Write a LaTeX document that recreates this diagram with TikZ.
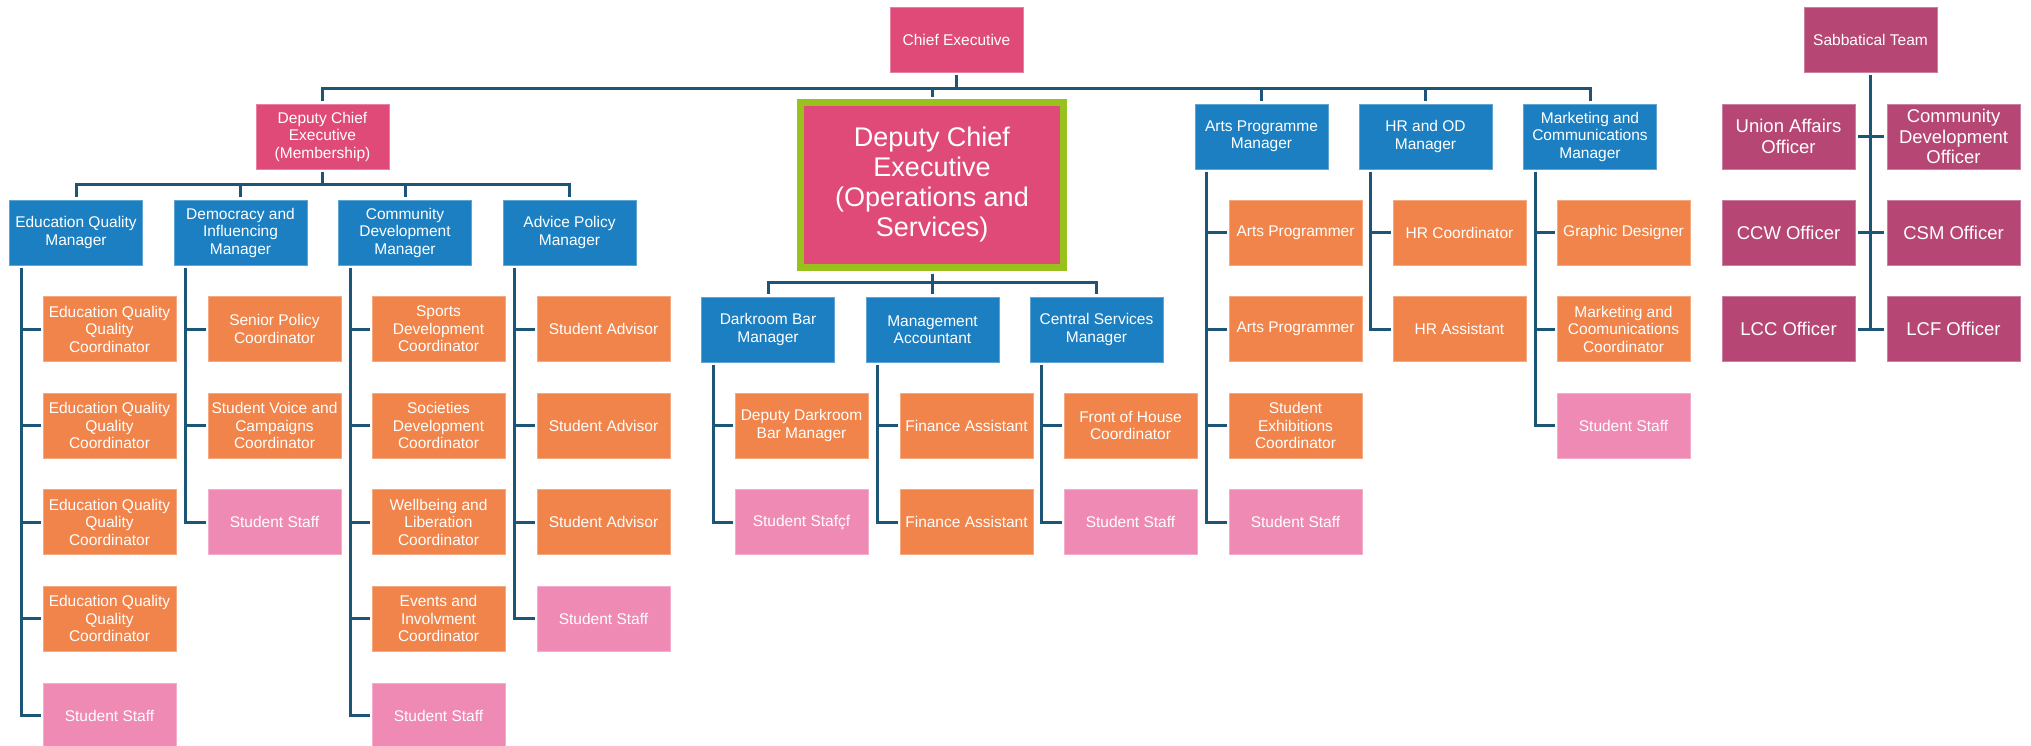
\documentclass[tikz,border=0pt]{standalone}
\usepackage{fontspec}
\setmainfont{Liberation Sans}
\definecolor{execpink}{HTML}{E04A78}
\definecolor{mgrblue}{HTML}{1B7FC1}
\definecolor{staffor}{HTML}{F0844A}
\definecolor{studpink}{HTML}{EF8AB4}
\definecolor{sabbmag}{HTML}{B64775}
\definecolor{linec}{HTML}{1D5577}
\definecolor{opsgreen}{HTML}{98C11E}
\tikzset{
  card/.style={rectangle, minimum width=133pt, minimum height=65pt, inner sep=1pt,
    align=center, text=white, font=\fontsize{15.5}{17.5}\selectfont,
    line width=0.8pt},
  execbox/.style={card, fill=execpink, draw=execpink!70!white},
  mgrbox/.style={card, fill=mgrblue, draw=mgrblue!70!white},
  orbox/.style={card, fill=staffor, draw=staffor!70!white},
  studbox/.style={card, fill=studpink, draw=studpink!70!white},
  sabbox/.style={card, fill=sabbmag, draw=sabbmag!70!white},
  officer/.style={sabbox, font=\fontsize{18.5}{20.5}\selectfont},
  conn/.style={draw=linec, line width=3pt, shorten <=2.5pt, shorten >=2.5pt},
  vline/.style={draw=linec, line width=3pt, shorten <=2.5pt, shorten >=2pt},
}
\begin{document}
\begin{tikzpicture}[x=1pt,y=-1pt]
\fill[white] (0,0) rectangle (2031,745);
\useasboundingbox (0,0) rectangle (2031,745);

% ---- top level ----
\node[execbox] (ce) at (956.5,39.5) {Chief Executive};
\coordinate (bus) at (0,88);

\node[execbox] (dcem) at (322.5,136.5) {Deputy Chief\\Executive\\(Membership)};
\node[rectangle, minimum width=263pt, minimum height=165pt, inner sep=0pt,
      fill=execpink, draw=opsgreen, line width=7pt, align=center, text=white,
      font=\fontsize{27}{30}\selectfont] (dceo) at (932,185)
      {Deputy Chief\\Executive\\(Operations and\\Services)};
\node[mgrbox] (artm) at (1261.5,136.5) {Arts Programme\\Manager};
\node[mgrbox] (hrm) at (1425.5,136.5) {HR and OD\\Manager};
\node[mgrbox] (mktm) at (1590,136.5) {Marketing and\\Communications\\Manager};

\foreach \n in {dcem,dceo,artm,hrm,mktm}
  \draw[conn] (ce.south) -- (ce.south |- bus) -| (\n.north);

% ---- membership branch ----
\coordinate (busm) at (0,184);
\node[mgrbox] (em) at (76,232.5) {Education Quality\\Manager};
\node[mgrbox] (dm) at (240.5,232.5) {Democracy and\\Influencing\\Manager};
\node[mgrbox] (cm) at (405,232.5) {Community\\Development\\Manager};
\node[mgrbox] (am) at (569.5,232.5) {Advice Policy\\Manager};
\foreach \n in {em,dm,cm,am}
  \draw[conn] (dcem.south) -- (dcem.south |- busm) -| (\n.north);

\node[orbox] (e1) at (109.5,329.1) {Education Quality\\Quality\\Coordinator};
\node[orbox] (e2) at (109.5,425.7) {Education Quality\\Quality\\Coordinator};
\node[orbox] (e3) at (109.5,522.3) {Education Quality\\Quality\\Coordinator};
\node[orbox] (e4) at (109.5,618.9) {Education Quality\\Quality\\Coordinator};
\node[studbox] (e5) at (109.5,715.5) {Student Staff};
\foreach \c in {e1,e2,e3,e4,e5}
  \draw[vline] ([xshift=12pt]em.south west) |- (\c.west);

\node[orbox] (d1) at (274.5,329.1) {Senior Policy\\Coordinator};
\node[orbox] (d2) at (274.5,425.7) {Student Voice and\\Campaigns\\Coordinator};
\node[studbox] (d3) at (274.5,522.3) {Student Staff};
\foreach \c in {d1,d2,d3}
  \draw[vline] ([xshift=12pt]dm.south west) |- (\c.west);

\node[orbox] (c1) at (438.5,329.1) {Sports\\Development\\Coordinator};
\node[orbox] (c2) at (438.5,425.7) {Societies\\Development\\Coordinator};
\node[orbox] (c3) at (438.5,522.3) {Wellbeing and\\Liberation\\Coordinator};
\node[orbox] (c4) at (438.5,618.9) {Events and\\Involvment\\Coordinator};
\node[studbox] (c5) at (438.5,715.5) {Student Staff};
\foreach \c in {c1,c2,c3,c4,c5}
  \draw[vline] ([xshift=12pt]cm.south west) |- (\c.west);

\node[orbox] (a1) at (603.5,329.1) {Student Advisor};
\node[orbox] (a2) at (603.5,425.7) {Student Advisor};
\node[orbox] (a3) at (603.5,522.3) {Student Advisor};
\node[studbox] (a4) at (603.5,618.9) {Student Staff};
\foreach \c in {a1,a2,a3,a4}
  \draw[vline] ([xshift=12pt]am.south west) |- (\c.west);

% ---- operations and services branch ----
\coordinate (buso) at (0,282);
\node[mgrbox] (dk) at (768,329.5) {Darkroom Bar\\Manager};
\node[mgrbox] (ma) at (932.5,329.5) {Management\\Accountant};
\node[mgrbox] (cs) at (1096.5,329.5) {Central Services\\Manager};
\foreach \n in {dk,ma,cs}
  \draw[conn] (dceo.south) -- (dceo.south |- buso) -| (\n.north);

\node[orbox] (k1) at (801.5,425.7) {Deputy Darkroom\\Bar Manager};
\node[studbox] (k2) at (801.5,522.3) {Student Stafçf};
\foreach \c in {k1,k2}
  \draw[vline] ([xshift=12pt]dk.south west) |- (\c.west);

\node[orbox] (f1) at (966.5,425.7) {Finance Assistant};
\node[orbox] (f2) at (966.5,522.3) {Finance Assistant};
\foreach \c in {f1,f2}
  \draw[vline] ([xshift=12pt]ma.south west) |- (\c.west);

\node[orbox] (s1) at (1130.5,425.7) {Front of House\\Coordinator};
\node[studbox] (s2) at (1130.5,522.3) {Student Staff};
\foreach \c in {s1,s2}
  \draw[vline] ([xshift=12pt]cs.south west) |- (\c.west);

% ---- arts, HR, marketing ----
\node[orbox] (r1) at (1295.5,232.5) {Arts Programmer};
\node[orbox] (r2) at (1295.5,329.1) {Arts Programmer};
\node[orbox] (r3) at (1295.5,425.7) {Student\\Exhibitions\\Coordinator};
\node[studbox] (r4) at (1295.5,522.3) {Student Staff};
\foreach \c in {r1,r2,r3,r4}
  \draw[vline] ([xshift=12pt]artm.south west) |- (\c.west);

\node[orbox] (h1) at (1459.5,232.5) {HR Coordinator};
\node[orbox] (h2) at (1459.5,329.1) {HR Assistant};
\foreach \c in {h1,h2}
  \draw[vline] ([xshift=12pt]hrm.south west) |- (\c.west);

\node[orbox] (m1) at (1623.5,232.5) {Graphic Designer};
\node[orbox] (m2) at (1623.5,329.1) {Marketing and\\Coomunications\\Coordinator};
\node[studbox] (m3) at (1623.5,425.7) {Student Staff};
\foreach \c in {m1,m2,m3}
  \draw[vline] ([xshift=12pt]mktm.south west) |- (\c.west);

% ---- sabbatical team ----
\node[sabbox] (sab) at (1870.5,39.5) {Sabbatical Team};
\node[officer] (ua) at (1788.5,136.5) {Union Affairs\\Officer};
\node[officer] (cdo) at (1953.5,136.5) {Community\\Development\\Officer};
\node[officer] (ccw) at (1788.5,232.5) {CCW Officer};
\node[officer] (csm) at (1953.5,232.5) {CSM Officer};
\node[officer] (lcc) at (1788.5,329.1) {LCC Officer};
\node[officer] (lcf) at (1953.5,329.1) {LCF Officer};
\draw[conn, shorten >=0pt] (sab.south) -- (sab.south |- lcc.east);
\draw[conn] (ua.east) -- (cdo.west);
\draw[conn] (ccw.east) -- (csm.west);
\draw[conn] (lcc.east) -- (lcf.west);
\end{tikzpicture}
\end{document}
